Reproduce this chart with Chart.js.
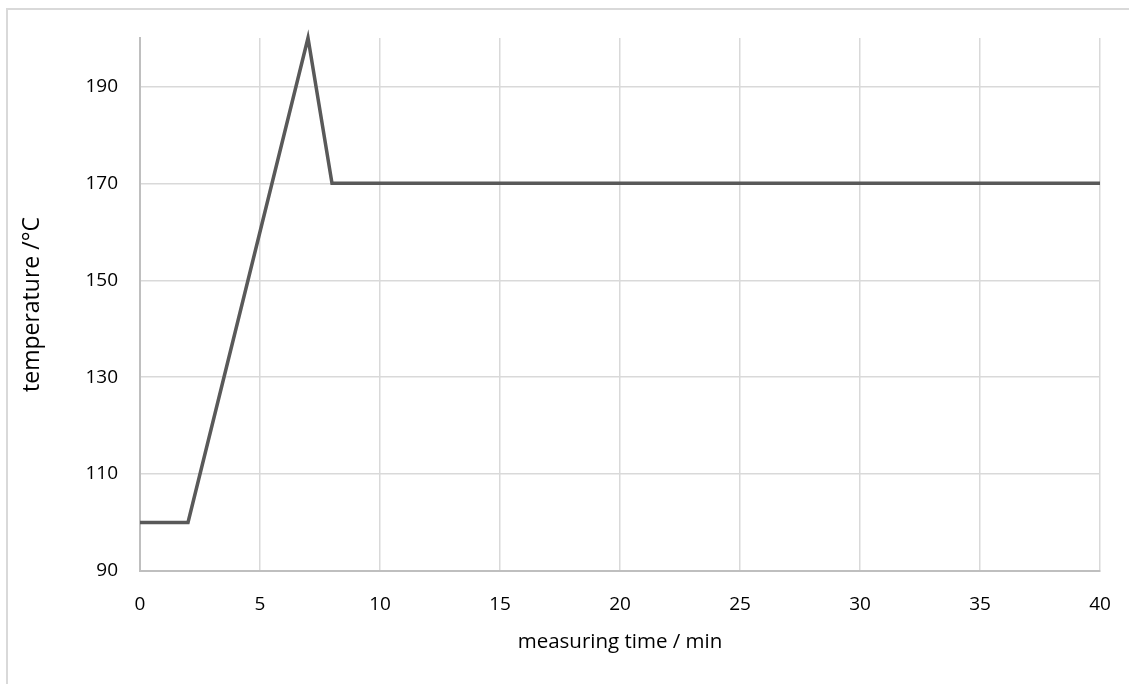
<!DOCTYPE html>
<html>
<head>
<meta charset="utf-8">
<script src="https://cdn.jsdelivr.net/npm/chart.js@4"></script>
<style>
  html, body { margin: 0; padding: 0; background: #fff; overflow: hidden; }
  .frame { position: absolute; left: 6px; top: 8px; width: 1300px; height: 900px; border: 2px solid #d9d9d9; }
  #tempChart { position: absolute; left: 0; top: 0; }
</style>
</head>
<body>
<div class="frame"></div>
<canvas id="tempChart" width="1129" height="684"></canvas>
<script>
// temperature program: time (min) vs temperature (°C)
const timeMin = [0, 2, 7, 8, 40];
const temperature = [100, 100, 200, 170, 170];
const yTicks = [90, 110, 130, 150, 170, 190];

const FONT = "'Open Sans', sans-serif";

const ctx = document.getElementById('tempChart').getContext('2d');
new Chart(ctx, {
    type: 'line',
    data: {
        datasets: [{
            label: 'temperature',
            data: timeMin.map((t, i) => ({ x: t, y: temperature[i] })),
            borderColor: '#595959',
            backgroundColor: '#595959',
            borderWidth: 3.5,
            pointRadius: 0,
            fill: false,
            tension: 0,
            clip: false
        }]
    },
    options: {
        responsive: false,
        animation: false,
        layout: { padding: { top: 38, right: 29, left: 0, bottom: 0 } },
        plugins: {
            legend: { display: false },
            tooltip: { enabled: false }
        },
        scales: {
            x: {
                type: 'linear',
                min: 0,
                max: 40,
                ticks: { stepSize: 5, color: '#000', padding: 22, font: { family: FONT, size: 19 } },
                grid: { color: '#d9d9d9', lineWidth: 1.5, drawTicks: false },
                border: { color: '#bfbfbf', width: 2 },
                title: { display: true, text: 'measuring time / min', color: '#000',
                         font: { family: FONT, size: 20.5 }, padding: { top: 0, bottom: 30 } },
                afterFit: scale => {
                    scale.height = 113;
                    // tick padding should not push the plot edges inward
                    scale.paddingLeft = 0;
                    scale.paddingRight = 0;
                }
            },
            y: {
                min: 90,
                max: 200,
                afterBuildTicks: scale => { scale.ticks = yTicks.map(v => ({ value: v })); },
                ticks: { color: '#000', padding: 22, font: { family: FONT, size: 19 } },
                grid: { color: '#d9d9d9', lineWidth: 1.5, drawTicks: false },
                border: { color: '#bfbfbf', width: 2 },
                title: { display: true, text: 'temperature /°C', color: '#000',
                         font: { family: FONT, size: 23 }, padding: { top: 19, bottom: 0 } },
                afterFit: scale => {
                    scale.width = 140;
                    scale.paddingTop = 0;
                    scale.paddingBottom = 0;
                }
            }
        }
    }
});
</script>
</body>
</html>
